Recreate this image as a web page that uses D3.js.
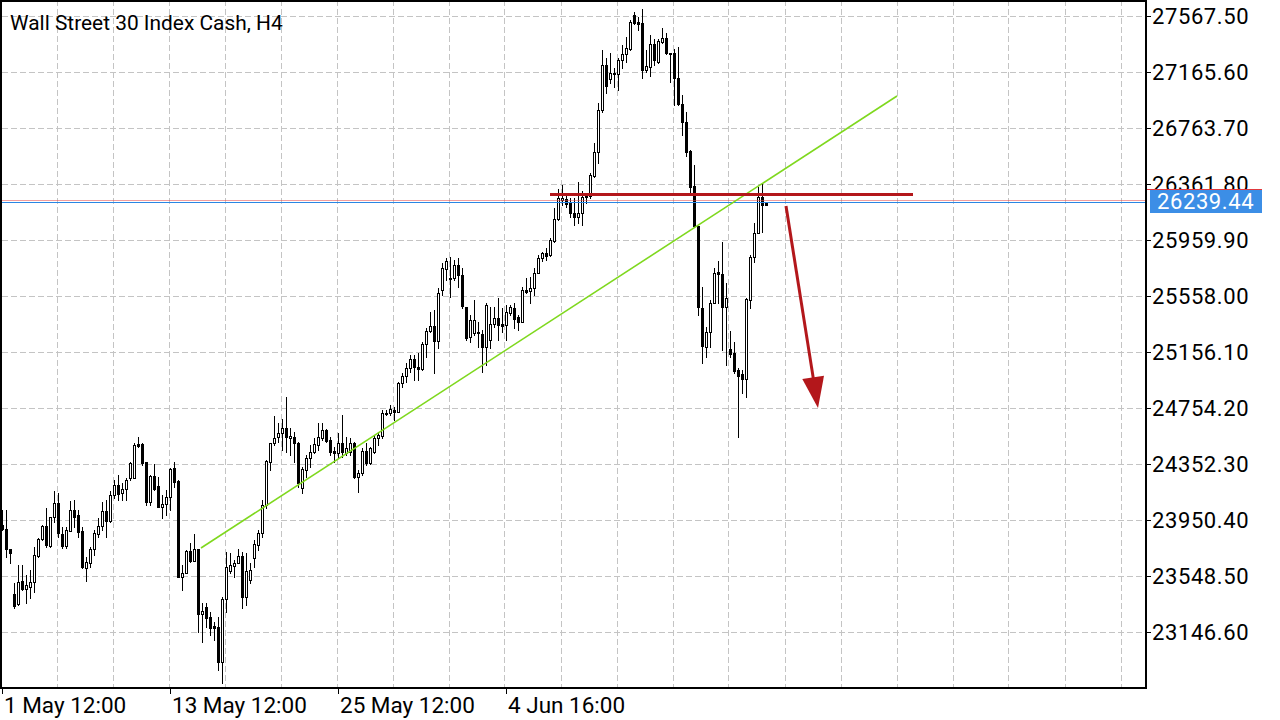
<!DOCTYPE html>
<html><head><meta charset="utf-8">
<script src="https://cdn.jsdelivr.net/npm/d3@7"></script>
<style>
body{margin:0;background:#fff;}
svg{display:block;font-family:Roboto, "Noto Sans", sans-serif;}
</style>
</head><body>
<svg id="chart" width="1280" height="720"></svg>
<script>
const chartTitle = "Wall Street 30 Index Cash, H4";

const opens = [23914,23886,23742,23419,23347,23512,23455,23469,23505,23692,23814,23907,23764,23972,24072,23850,23764,23871,24022,23986,
23871,23606,23642,23742,23850,23907,24015,23943,24130,24201,24144,24173,24252,24252,24496,24496,24366,24079,24266,24194,
24044,24065,24115,24323,24230,23541,23570,23728,23656,23742,23276,23326,23254,23190,23182,22931,23383,23584,23620,23642,
23692,23398,23520,23678,23771,23857,24058,24366,24503,24546,24575,24611,24539,24546,24503,24180,24309,24395,24438,24489,
24539,24596,24524,24445,24431,24503,24431,24438,24503,24259,24288,24445,24359,24438,24539,24553,24718,24718,24740,24725,
24934,24984,25041,25106,25048,25034,25213,25307,25343,25235,25601,25752,25687,25687,25780,25709,25479,25264,25292,25300,
25285,25192,25242,25357,25400,25357,25350,25436,25472,25407,25371,25601,25594,25615,25723,25831,25867,25852,25953,26111,
26247,26254,26225,26154,26125,26154,26276,26276,26419,26591,26893,27216,27115,27158,27151,27252,27295,27331,27575,27524,
27517,27180,27201,27367,27237,27381,27410,27302,27302,27122,26936,26807,26599,26347,26060,25472,25192,25300,25508,25730,
25716,25479,25178,25149,25027,24998,24962,25529,25838,26010,26268,26225];

const highs = [24022,24022,23742,23498,23627,23627,23556,23591,23756,23821,23914,24036,23972,24158,24144,23900,23900,24087,24094,24022,
23900,23685,23756,23879,23965,24079,24094,24158,24237,24273,24216,24252,24366,24503,24546,24503,24366,24273,24352,24259,
24130,24166,24323,24366,24237,23627,23735,23785,23850,23742,23355,23355,23290,23218,23254,23398,23721,23713,23663,23742,
23721,23713,23642,23807,23879,24094,24381,24503,24697,24646,24675,24833,24611,24582,24510,24331,24417,24489,24539,24646,
24646,24603,24546,24474,24575,24704,24546,24539,24510,24309,24467,24503,24474,24560,24582,24740,24740,24776,24761,24941,
25005,25077,25134,25134,25149,25228,25328,25443,25457,25615,25795,25831,25838,25816,25831,25759,25479,25422,25529,25371,
25314,25508,25479,25479,25544,25472,25493,25493,25508,25422,25622,25687,25694,25759,25852,25874,25902,25974,26190,26326,
26355,26283,26261,26261,26376,26311,26297,26441,26656,26943,27323,27266,27302,27194,27266,27359,27417,27539,27596,27560,
27618,27323,27431,27402,27402,27481,27445,27302,27331,27345,27001,26878,26606,26498,26060,25622,25335,25529,25759,25809,
25945,25651,25307,25228,25041,25027,25544,25852,26082,26340,26369,26232];

const lows = [23879,23685,23642,23319,23340,23448,23355,23390,23434,23685,23807,23756,23756,23936,23828,23749,23749,23871,23900,23828,
23606,23512,23613,23699,23828,23879,23828,23936,24108,24094,24094,24094,24237,24252,24474,24345,24058,24058,24166,24044,
23965,23986,24022,24187,23541,23448,23570,23649,23656,23146,23075,23182,23125,23089,22874,22780,23290,23570,23541,23642,
23319,23340,23498,23613,23735,23828,24036,24309,24489,24510,24453,24438,24417,24366,24187,24144,24259,24331,24431,24453,
24524,24510,24417,24366,24402,24402,24417,24417,24252,24151,24273,24345,24352,24431,24489,24539,24704,24704,24668,24725,
24905,24941,25012,24955,24955,25027,25120,25300,25005,25185,25565,25673,25551,25673,25622,25472,25242,25228,25278,25192,
25012,25063,25185,25335,25242,25300,25242,25422,25328,25314,25371,25579,25508,25565,25723,25809,25816,25845,25945,26103,
26211,26197,26125,26068,26082,26068,26225,26261,26412,26512,26878,27015,27087,27058,27036,27194,27237,27323,27510,27467,
27122,27166,27137,27216,27230,27374,27295,27094,26929,26929,26713,26563,26304,26053,25422,25077,25120,25192,25508,25508,
25170,25063,25120,25005,24546,24862,24833,25472,25802,26010,26017,26211];

const closes = [23886,23742,23713,23333,23505,23455,23484,23505,23699,23814,23907,23771,23972,24072,23857,23764,23879,24022,23972,23864,
23613,23649,23742,23857,23907,24015,23943,24130,24201,24137,24173,24237,24359,24489,24481,24359,24079,24266,24173,24044,
24065,24115,24316,24223,23541,23570,23728,23656,23742,23276,23297,23247,23175,23175,22931,23383,23613,23627,23642,23692,
23398,23584,23591,23778,23857,24058,24374,24503,24539,24575,24611,24546,24553,24503,24216,24316,24395,24438,24496,24546,
24596,24517,24438,24431,24503,24438,24467,24503,24259,24288,24445,24359,24467,24539,24560,24718,24711,24747,24725,24934,
24984,25041,25106,25048,25034,25213,25307,25343,25235,25579,25759,25809,25680,25780,25709,25486,25256,25386,25386,25292,
25192,25493,25357,25400,25350,25343,25443,25479,25393,25371,25601,25587,25615,25723,25831,25867,25845,25960,26111,26261,
26261,26218,26154,26125,26154,26268,26268,26426,26591,26893,27216,27065,27158,27151,27252,27295,27338,27524,27517,27510,
27180,27209,27367,27252,27388,27410,27302,27295,27122,26936,26807,26591,26340,26060,25479,25199,25300,25508,25723,25716,
25479,25544,25142,25020,24984,24962,25536,25838,26010,26268,26211,26211];

const priceTicks = [27567.50,27165.60,26763.70,26361.80,25959.90,25558.00,25156.10,24754.20,24352.30,23950.40,23548.50,23146.60];
const timeLabels = ["1 May 12:00","13 May 12:00","25 May 12:00","4 Jun 16:00"];
const timeLabelBars = [0,42,84,126];
const currentPrice = 26239.44;
const resistancePrice = 26286;
const resistanceBars = [137, 227.75];
const trendBars = [49.75, 223.75];
const trendPrices = [23749, 26993];
const arrowBars = [196, 204];
const arrowPrices = [26204, 24754];

const W = 1280, H = 720;
const plot = {left: 2, right: 1145, top: 0, bottom: 688};
const svg = d3.select("#chart");
svg.append("rect").attr("width", W).attr("height", H).attr("fill", "#fff");

const x = d3.scaleLinear().domain([0, (plot.right - plot.left) / 4]).range([plot.left, plot.right]);
const y = d3.scaleLinear().domain([22744.5, 27682.3]).range([plot.bottom, plot.top]);

const g = svg.append("g");
svg.append("clipPath").attr("id", "pc").append("rect")
  .attr("x", plot.left).attr("y", plot.top).attr("width", plot.right - plot.left).attr("height", plot.bottom - plot.top);
const pg = g.append("g").attr("clip-path", "url(#pc)");

// grid
const gridBars = d3.range(14, 290, 14);
pg.selectAll("line.vg").data(gridBars).enter().append("line")
  .attr("x1", d => Math.floor(x(d)) - 0.5).attr("x2", d => Math.floor(x(d)) - 0.5)
  .attr("y1", plot.top).attr("y2", plot.bottom)
  .attr("stroke", "#c4c4c4").attr("stroke-width", 1).attr("stroke-dasharray", "6,3");
pg.selectAll("line.hg").data(priceTicks).enter().append("line")
  .attr("x1", plot.left).attr("x2", plot.right)
  .attr("y1", d => Math.round(y(d)) + 0.5).attr("y2", d => Math.round(y(d)) + 0.5)
  .attr("stroke", "#c4c4c4").attr("stroke-width", 1).attr("stroke-dasharray", "6,3");

// candles
const bars = d3.range(opens.length).map(i => ({i, o: opens[i], h: highs[i], l: lows[i], c: closes[i]}));
const cg = pg.append("g").attr("shape-rendering", "crispEdges");
bars.forEach(b => {
  const cx = Math.round(x(b.i));
  const yh = Math.round(y(b.h)), yl = Math.round(y(b.l));
  const yt = Math.round(y(Math.max(b.o, b.c))), yb = Math.round(y(Math.min(b.o, b.c)));
  cg.append("rect").attr("x", cx).attr("y", yh).attr("width", 1).attr("height", yl - yh + 1).attr("fill", "#000");
  cg.append("rect").attr("x", cx - 1).attr("y", yt).attr("width", 3).attr("height", Math.max(1, yb - yt + 1)).attr("fill", "#000");
  if (b.c > b.o && yb - yt >= 2) {
    cg.append("rect").attr("x", cx).attr("y", yt + 1).attr("width", 1).attr("height", yb - yt - 1).attr("fill", "#fff");
  }
});

// current price lines
const cpY = Math.round(y(currentPrice));
const ln = pg.append("g").attr("shape-rendering", "crispEdges");
ln.append("line").attr("x1", plot.left).attr("x2", plot.right)
  .attr("y1", cpY - 0.5).attr("y2", cpY - 0.5)
  .attr("stroke", "#e65050").attr("stroke-width", 1).attr("stroke-opacity", 0.55);
ln.append("line").attr("x1", plot.left).attr("x2", plot.right)
  .attr("y1", cpY + 1.5).attr("y2", cpY + 1.5)
  .attr("stroke", "#2a86e4").attr("stroke-width", 1);

// trend line
pg.append("line")
  .attr("x1", x(trendBars[0])).attr("y1", y(trendPrices[0]))
  .attr("x2", x(trendBars[1])).attr("y2", y(trendPrices[1]))
  .attr("stroke", "#7fd81e").attr("stroke-width", 1.6);

// resistance
pg.append("line")
  .attr("x1", x(resistanceBars[0])).attr("x2", x(resistanceBars[1]))
  .attr("y1", y(resistancePrice)).attr("y2", y(resistancePrice))
  .attr("stroke", "#b3171b").attr("stroke-width", 3);

// arrow
{
  const x1 = x(arrowBars[0]), y1 = y(arrowPrices[0]), x2 = x(arrowBars[1]), y2 = y(arrowPrices[1]);
  const dx = x2 - x1, dy = y2 - y1, len = Math.hypot(dx, dy);
  const ux = dx / len, uy = dy / len, px = -uy, py = ux;
  const headL = 31, headW = 11;
  const bx = x2 - ux * headL, by = y2 - uy * headL;
  pg.append("line").attr("x1", x1).attr("y1", y1).attr("x2", bx + ux * 2).attr("y2", by + uy * 2)
    .attr("stroke", "#b3171b").attr("stroke-width", 3);
  pg.append("path").attr("d", d3.line()([[x2, y2], [bx + px * headW, by + py * headW], [bx - px * headW, by - py * headW]]) + "Z")
    .attr("fill", "#b3171b");
}

// frame
g.append("rect").attr("x", 1).attr("y", 1).attr("width", plot.right).attr("height", plot.bottom - 1)
  .attr("fill", "none").attr("stroke", "#000").attr("stroke-width", 2);

// price axis
const ax = svg.append("g");
ax.selectAll("line.pt").data(priceTicks).enter().append("line")
  .attr("x1", plot.right + 1).attr("x2", plot.right + 6)
  .attr("y1", d => Math.round(y(d)) + 0.5).attr("y2", d => Math.round(y(d)) + 0.5)
  .attr("stroke", "#000").attr("stroke-width", 1);
ax.selectAll("text.pl").data(priceTicks).enter().append("text")
  .attr("x", 1152).attr("y", d => Math.round(y(d)) + 8)
  .attr("font-size", 22).attr("letter-spacing", 0.6).attr("fill", "#000")
  .text(d => d.toFixed(2));

// current price label
ax.append("rect").attr("x", 1150).attr("y", cpY - 11).attr("width", 112).attr("height", 23).attr("fill", "#3c8ee6");
ax.append("line").attr("x1", plot.right + 2).attr("x2", 1262).attr("y1", cpY - 11.5).attr("y2", cpY - 11.5)
  .attr("stroke", "#e0393e").attr("stroke-width", 1);
ax.append("text").attr("x", 1157).attr("y", cpY + 8).attr("font-size", 22).attr("letter-spacing", 0.6)
  .attr("fill", "#fff").text(currentPrice.toFixed(2));

// time axis
const tx = svg.append("g");
tx.selectAll("line.tt").data(timeLabelBars).enter().append("line")
  .attr("x1", d => Math.max(2.5, Math.round(x(d)) + 0.5)).attr("x2", d => Math.max(2.5, Math.round(x(d)) + 0.5))
  .attr("y1", plot.bottom).attr("y2", plot.bottom + 6)
  .attr("stroke", "#000").attr("stroke-width", 1);
tx.selectAll("text.tl").data(timeLabels).enter().append("text")
  .attr("x", (d, i) => Math.max(4, Math.round(x(timeLabelBars[i])) + 2)).attr("y", 713)
  .attr("font-size", 22.5).attr("fill", "#000").text(d => d);

// title
svg.append("text").attr("x", 10).attr("y", 30).attr("font-size", 20.9).attr("fill", "#000").text(chartTitle);
</script>
</body></html>
